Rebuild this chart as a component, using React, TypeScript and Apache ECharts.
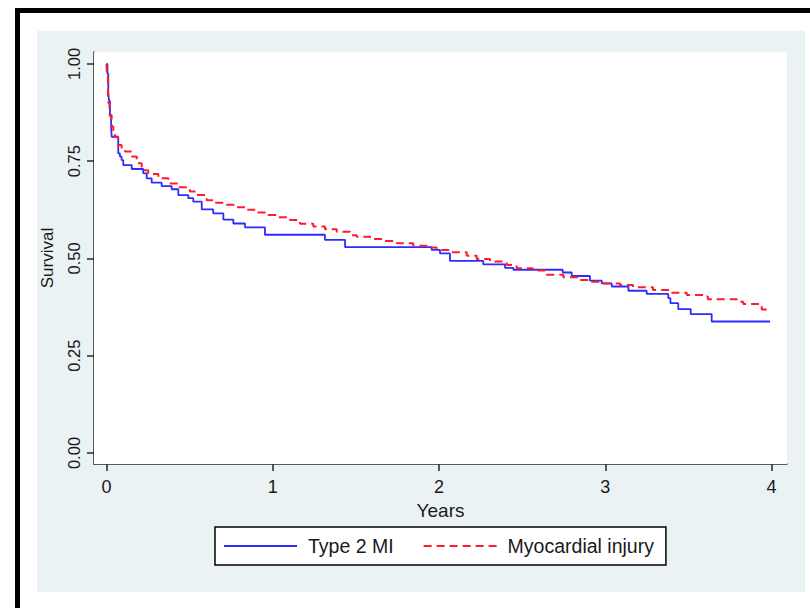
import React, { useEffect, useRef } from "react";
import * as echarts from "echarts";

// Kaplan-Meier estimates (time in years, survival)
const type2Time = [0, 0.006, 0.011, 0.015, 0.021, 0.028, 0.031, 0.071, 0.081, 0.091, 0.101, 0.152, 0.221, 0.242, 0.272, 0.332, 0.392, 0.432, 0.492, 0.522, 0.573, 0.642, 0.703, 0.763, 0.833, 0.953, 1.314, 1.435, 1.956, 2.006, 2.066, 2.266, 2.397, 2.447, 2.744, 2.798, 2.908, 2.979, 3.039, 3.139, 3.249, 3.379, 3.392, 3.439, 3.514, 3.64, 3.991];
const type2Surv = [1.0, 0.975, 0.93, 0.905, 0.866, 0.84, 0.813, 0.77, 0.762, 0.753, 0.74, 0.73, 0.719, 0.706, 0.695, 0.686, 0.678, 0.663, 0.655, 0.646, 0.626, 0.616, 0.6, 0.59, 0.58, 0.561, 0.548, 0.529, 0.522, 0.513, 0.494, 0.485, 0.476, 0.471, 0.464, 0.455, 0.443, 0.436, 0.428, 0.417, 0.409, 0.398, 0.385, 0.37, 0.357, 0.338, 0.338];

const injuryTime = [0, 0.002, 0.009, 0.011, 0.018, 0.031, 0.041, 0.051, 0.069, 0.091, 0.111, 0.152, 0.182, 0.212, 0.251, 0.312, 0.372, 0.432, 0.502, 0.543, 0.603, 0.653, 0.703, 0.783, 0.843, 0.903, 0.973, 1.024, 1.104, 1.164, 1.244, 1.314, 1.385, 1.465, 1.505, 1.585, 1.665, 1.746, 1.845, 1.926, 1.986, 2.066, 2.167, 2.227, 2.307, 2.407, 2.467, 2.565, 2.638, 2.748, 2.848, 2.908, 2.988, 3.089, 3.167, 3.287, 3.389, 3.49, 3.59, 3.617, 3.791, 3.83, 3.941, 4.0];
const injurySurv = [1.0, 0.98, 0.92, 0.9, 0.869, 0.839, 0.822, 0.812, 0.792, 0.781, 0.775, 0.762, 0.745, 0.727, 0.717, 0.706, 0.693, 0.683, 0.672, 0.663, 0.65, 0.643, 0.638, 0.632, 0.625, 0.618, 0.612, 0.606, 0.599, 0.589, 0.582, 0.575, 0.569, 0.56, 0.556, 0.55, 0.545, 0.539, 0.533, 0.528, 0.522, 0.516, 0.507, 0.499, 0.492, 0.483, 0.475, 0.469, 0.458, 0.452, 0.445, 0.44, 0.436, 0.432, 0.426, 0.419, 0.412, 0.406, 0.402, 0.395, 0.389, 0.383, 0.369, 0.369];

const xTicks = [0, 1, 2, 3, 4];
const yTicks = [0, 0.25, 0.5, 0.75, 1];
const seriesNames = ["Type 2 MI", "Myocardial injury"];
const xTitle = "Years";
const yTitle = "Survival";

const FONT = "'Liberation Sans', Arial, sans-serif";
const PANEL = "#eaf2f3";

export default function App() {
  const ref = useRef<HTMLDivElement>(null);
  useEffect(() => {
    if (!ref.current) return;
    const chart = echarts.init(ref.current, null, { renderer: "svg" });
    const type2Data = type2Time.map((t, i) => [t, type2Surv[i]]);
    const injuryData = injuryTime.map((t, i) => [t, injurySurv[i]]);
    chart.setOption({
      animation: false,
      backgroundColor: "#ffffff",
      textStyle: { fontFamily: FONT },
      graphic: [
        {
          type: "rect",
          z: -10,
          silent: true,
          shape: { x: 17.5, y: 10.5, width: 820, height: 620 },
          style: { fill: "#ffffff", stroke: "#000000", lineWidth: 5 },
        },
        {
          type: "rect",
          z: -9,
          silent: true,
          shape: { x: 37, y: 31, width: 768, height: 561 },
          style: { fill: PANEL },
        },
      ],
      grid: {
        left: 94,
        right: 23,
        top: 52,
        bottom: 144,
        show: true,
        backgroundColor: "#ffffff",
        borderWidth: 0,
        z: 1,
      },
      xAxis: {
        type: "value",
        min: -0.075,
        max: 4.093,
        name: xTitle,
        nameLocation: "middle",
        nameGap: 27,
        nameTextStyle: { fontSize: 19, color: "#1a1a1a", fontFamily: FONT },
        axisLine: { show: true, onZero: false, lineStyle: { color: "#2a2a2a", width: 1.5 } },
        axisTick: { show: true, length: 7, customValues: xTicks, lineStyle: { color: "#2a2a2a", width: 1.5 } },
        axisLabel: {
          customValues: xTicks,
          fontSize: 18,
          color: "#1a1a1a",
          margin: 14,
          fontFamily: FONT,
        },
        splitLine: { show: false },
      },
      yAxis: {
        type: "value",
        min: -0.0283,
        max: 1.0308,
        name: yTitle,
        nameLocation: "middle",
        nameRotate: 90,
        nameGap: 38,
        nameTextStyle: { fontSize: 17, color: "#1a1a1a", fontFamily: FONT },
        axisLine: { show: true, onZero: false, lineStyle: { color: "#2a2a2a", width: 1.5 } },
        axisTick: { show: true, length: 7, customValues: yTicks, lineStyle: { color: "#2a2a2a", width: 1.5 } },
        axisLabel: {
          customValues: yTicks,
          rotate: 90,
          fontSize: 16.5,
          color: "#1a1a1a",
          margin: 12,
          fontFamily: FONT,
          formatter: (v: number) => v.toFixed(2),
        },
        splitLine: { show: true, lineStyle: { color: "#e6eef0", width: 1.2 } },
      },
      legend: {
        left: 215,
        top: 527,
        orient: "horizontal",
        itemWidth: 73,
        itemHeight: 14,
        itemGap: 29,
        padding: [9, 12, 9, 8],
        borderColor: "#000000",
        borderWidth: 1.5,
        backgroundColor: "#ffffff",
        borderRadius: 0,
        itemStyle: { opacity: 0, color: "rgba(0,0,0,0)", borderWidth: 0, borderColor: "rgba(0,0,0,0)" },
        textStyle: { fontSize: 19.5, color: "#1a1a1a", fontFamily: FONT, padding: [0, 0, 0, 6] },
        data: seriesNames,
      },
      series: [
        {
          name: seriesNames[0],
          type: "line",
          step: "end",
          symbol: "none",
          data: type2Data,
          z: 3,
          lineStyle: { color: "#2f2bff", width: 1.8, type: "solid" },
          itemStyle: { color: "#2f2bff" },
        },
        {
          name: seriesNames[1],
          type: "line",
          step: "end",
          symbol: "none",
          data: injuryData,
          z: 4,
          lineStyle: { color: "#ff1a2e", width: 2, type: [8, 5] },
          itemStyle: { color: "#ff1a2e" },
        },
      ],
    });
    return () => chart.dispose();
  }, []);
  return (
    <div
      ref={ref}
      style={{ position: "fixed", left: 0, top: 0, width: 810, height: 608 }}
    />
  );
}
